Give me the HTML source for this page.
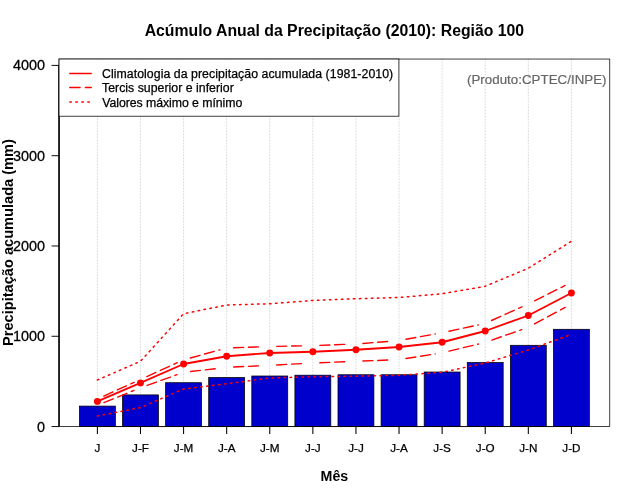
<!DOCTYPE html>
<html><head><meta charset="utf-8"><title>Acúmulo Anual da Precipitação</title>
<style>html,body{margin:0;padding:0;background:#fff;}body{width:640px;height:500px;overflow:hidden;}svg{display:block;will-change:transform;}text{font-family:"Liberation Sans",sans-serif;}</style>
</head><body>
<svg width="640" height="500" viewBox="0 0 640 500">
<rect x="0" y="0" width="640" height="500" fill="#ffffff"/>
<g stroke="#d0d0d0" stroke-width="0.85" stroke-dasharray="0.85 2.15" stroke-linecap="round" fill="none">
<line x1="97.39" y1="59.04" x2="97.39" y2="426.56"/>
<line x1="140.48" y1="59.04" x2="140.48" y2="426.56"/>
<line x1="183.58" y1="59.04" x2="183.58" y2="426.56"/>
<line x1="226.67" y1="59.04" x2="226.67" y2="426.56"/>
<line x1="269.76" y1="59.04" x2="269.76" y2="426.56"/>
<line x1="312.85" y1="59.04" x2="312.85" y2="426.56"/>
<line x1="355.95" y1="59.04" x2="355.95" y2="426.56"/>
<line x1="399.04" y1="59.04" x2="399.04" y2="426.56"/>
<line x1="442.13" y1="59.04" x2="442.13" y2="426.56"/>
<line x1="485.22" y1="59.04" x2="485.22" y2="426.56"/>
<line x1="528.32" y1="59.04" x2="528.32" y2="426.56"/>
<line x1="571.41" y1="59.04" x2="571.41" y2="426.56"/>
</g>
<g fill="#0000CD" stroke="#000000" stroke-width="0.75">
<rect x="79.44" y="406.10" width="35.91" height="20.46"/>
<rect x="122.53" y="394.90" width="35.91" height="31.66"/>
<rect x="165.62" y="382.70" width="35.91" height="43.86"/>
<rect x="208.71" y="377.50" width="35.91" height="49.06"/>
<rect x="251.81" y="376.00" width="35.91" height="50.56"/>
<rect x="294.90" y="375.20" width="35.91" height="51.36"/>
<rect x="337.99" y="374.75" width="35.91" height="51.81"/>
<rect x="381.08" y="374.75" width="35.91" height="51.81"/>
<rect x="424.18" y="372.00" width="35.91" height="54.56"/>
<rect x="467.27" y="362.50" width="35.91" height="64.06"/>
<rect x="510.36" y="345.30" width="35.91" height="81.26"/>
<rect x="553.45" y="329.30" width="35.91" height="97.26"/>
</g>
<g stroke="#000000" stroke-width="0.75" fill="none" stroke-linecap="round">
<line x1="97.39" y1="426.56" x2="571.41" y2="426.56"/>
<line x1="97.39" y1="426.56" x2="97.39" y2="433.96" stroke-width="1.05" stroke-linecap="butt"/>
<line x1="140.48" y1="426.56" x2="140.48" y2="433.96" stroke-width="1.05" stroke-linecap="butt"/>
<line x1="183.58" y1="426.56" x2="183.58" y2="433.96" stroke-width="1.05" stroke-linecap="butt"/>
<line x1="226.67" y1="426.56" x2="226.67" y2="433.96" stroke-width="1.05" stroke-linecap="butt"/>
<line x1="269.76" y1="426.56" x2="269.76" y2="433.96" stroke-width="1.05" stroke-linecap="butt"/>
<line x1="312.85" y1="426.56" x2="312.85" y2="433.96" stroke-width="1.05" stroke-linecap="butt"/>
<line x1="355.95" y1="426.56" x2="355.95" y2="433.96" stroke-width="1.05" stroke-linecap="butt"/>
<line x1="399.04" y1="426.56" x2="399.04" y2="433.96" stroke-width="1.05" stroke-linecap="butt"/>
<line x1="442.13" y1="426.56" x2="442.13" y2="433.96" stroke-width="1.05" stroke-linecap="butt"/>
<line x1="485.22" y1="426.56" x2="485.22" y2="433.96" stroke-width="1.05" stroke-linecap="butt"/>
<line x1="528.32" y1="426.56" x2="528.32" y2="433.96" stroke-width="1.05" stroke-linecap="butt"/>
<line x1="571.41" y1="426.56" x2="571.41" y2="433.96" stroke-width="1.05" stroke-linecap="butt"/>
<line x1="59.04" y1="426.56" x2="59.04" y2="65.40" stroke-width="1.5" stroke-linecap="butt"/>
<line x1="59.04" y1="426.56" x2="51.54" y2="426.56" stroke-width="0.95" stroke-linecap="butt"/>
<line x1="59.04" y1="336.27" x2="51.54" y2="336.27" stroke-width="0.95" stroke-linecap="butt"/>
<line x1="59.04" y1="245.98" x2="51.54" y2="245.98" stroke-width="0.95" stroke-linecap="butt"/>
<line x1="59.04" y1="155.69" x2="51.54" y2="155.69" stroke-width="0.95" stroke-linecap="butt"/>
<line x1="59.04" y1="65.40" x2="51.54" y2="65.40" stroke-width="0.95" stroke-linecap="butt"/>
<rect x="59.04" y="59.04" width="550.72" height="367.52"/>
</g>
<g font-size="11.7" fill="#000000" text-anchor="middle" stroke="#000000" stroke-width="0.25">
<text x="97.39" y="451.6">J</text>
<text x="140.48" y="451.6">J-F</text>
<text x="183.58" y="451.6">J-M</text>
<text x="226.67" y="451.6">J-A</text>
<text x="269.76" y="451.6">J-M</text>
<text x="312.85" y="451.6">J-J</text>
<text x="355.95" y="451.6">J-J</text>
<text x="399.04" y="451.6">J-A</text>
<text x="442.13" y="451.6">J-S</text>
<text x="485.22" y="451.6">J-O</text>
<text x="528.32" y="451.6">J-N</text>
<text x="571.41" y="451.6">J-D</text>
</g>
<g font-size="14.4" fill="#000000" text-anchor="end" stroke="#000000" stroke-width="0.3">
<text x="45.0" y="431.51">0</text>
<text x="45.0" y="341.22">1000</text>
<text x="45.0" y="250.93">2000</text>
<text x="45.0" y="160.64">3000</text>
<text x="45.0" y="70.35">4000</text>
</g>
<text x="334.4" y="35.6" font-size="15.8" font-weight="bold" text-anchor="middle">Acúmulo Anual da Precipitação (2010): Região 100</text>
<text x="334.4" y="480.8" font-size="14.2" font-weight="bold" text-anchor="middle">Mês</text>
<text transform="translate(13.2,242.5) rotate(-90)" font-size="14.6" font-weight="bold" text-anchor="middle">Precipitação acumulada (mm)</text>
<g stroke="#FF0000" fill="none" stroke-linecap="round" stroke-linejoin="round">
<polyline points="97.39,401.40 140.48,382.90 183.58,364.00 226.67,356.25 269.76,353.00 312.85,351.75 355.95,349.75 399.04,347.00 442.13,342.25 485.22,331.00 528.32,315.50 571.41,293.00" stroke-width="1.85"/>
<line x1="103.78" y1="396.03" x2="134.10" y2="382.37" stroke-width="1.4" stroke-dasharray="10 4.8"/>
<line x1="146.85" y1="376.59" x2="177.21" y2="362.71" stroke-width="1.4" stroke-dasharray="10 4.8"/>
<line x1="190.33" y1="357.95" x2="219.92" y2="349.85" stroke-width="1.4" stroke-dasharray="10 4.8"/>
<line x1="233.66" y1="347.76" x2="262.77" y2="346.74" stroke-width="1.4" stroke-dasharray="10 4.8"/>
<line x1="276.76" y1="346.35" x2="305.86" y2="345.75" stroke-width="1.4" stroke-dasharray="10 4.8"/>
<line x1="319.85" y1="345.34" x2="348.95" y2="344.26" stroke-width="1.4" stroke-dasharray="10 4.8"/>
<line x1="362.92" y1="343.43" x2="392.06" y2="341.07" stroke-width="1.4" stroke-dasharray="10 4.8"/>
<line x1="405.93" y1="339.25" x2="435.24" y2="333.95" stroke-width="1.4" stroke-dasharray="10 4.8"/>
<line x1="448.97" y1="331.22" x2="478.38" y2="324.88" stroke-width="1.4" stroke-dasharray="10 4.8"/>
<line x1="491.60" y1="320.51" x2="521.94" y2="306.79" stroke-width="1.4" stroke-dasharray="10 4.8"/>
<line x1="534.57" y1="300.76" x2="565.15" y2="285.44" stroke-width="1.4" stroke-dasharray="10 4.8"/>
<line x1="103.88" y1="402.58" x2="133.99" y2="390.42" stroke-width="1.4" stroke-dasharray="10 4.8"/>
<line x1="147.07" y1="385.43" x2="176.99" y2="374.67" stroke-width="1.4" stroke-dasharray="10 4.8"/>
<line x1="190.53" y1="371.51" x2="219.71" y2="368.19" stroke-width="1.4" stroke-dasharray="10 4.8"/>
<line x1="233.66" y1="367.06" x2="262.77" y2="365.64" stroke-width="1.4" stroke-dasharray="10 4.8"/>
<line x1="276.75" y1="364.93" x2="305.86" y2="363.37" stroke-width="1.4" stroke-dasharray="10 4.8"/>
<line x1="319.85" y1="362.72" x2="348.95" y2="361.58" stroke-width="1.4" stroke-dasharray="10 4.8"/>
<line x1="362.94" y1="361.02" x2="392.04" y2="359.88" stroke-width="1.4" stroke-dasharray="10 4.8"/>
<line x1="405.95" y1="358.51" x2="435.22" y2="353.89" stroke-width="1.4" stroke-dasharray="10 4.8"/>
<line x1="448.94" y1="351.16" x2="478.42" y2="344.04" stroke-width="1.4" stroke-dasharray="10 4.8"/>
<line x1="491.83" y1="340.09" x2="521.71" y2="329.61" stroke-width="1.4" stroke-dasharray="10 4.8"/>
<line x1="534.48" y1="323.98" x2="565.24" y2="307.42" stroke-width="1.4" stroke-dasharray="10 4.8"/>
<polyline points="97.39,380.00 140.48,361.30 183.58,313.75 226.67,305.00 269.76,303.75 312.85,300.50 355.95,298.75 399.04,297.50 442.13,293.75 485.22,286.25 528.32,268.25 571.41,241.25" stroke-width="1.5" stroke-dasharray="1.5 4.5"/>
<polyline points="97.39,416.00 140.48,407.60 183.58,389.00 226.67,383.75 269.76,378.00 312.85,376.75 355.95,376.25 399.04,375.25 442.13,372.30 485.22,363.00 528.32,350.00 571.41,334.40" stroke-width="1.5" stroke-dasharray="1.5 4.5"/>
</g>
<g fill="#FF0000" stroke="none">
<circle cx="97.39" cy="401.40" r="3.45"/>
<circle cx="140.48" cy="382.90" r="3.45"/>
<circle cx="183.58" cy="364.00" r="3.45"/>
<circle cx="226.67" cy="356.25" r="3.45"/>
<circle cx="269.76" cy="353.00" r="3.45"/>
<circle cx="312.85" cy="351.75" r="3.45"/>
<circle cx="355.95" cy="349.75" r="3.45"/>
<circle cx="399.04" cy="347.00" r="3.45"/>
<circle cx="442.13" cy="342.25" r="3.45"/>
<circle cx="485.22" cy="331.00" r="3.45"/>
<circle cx="528.32" cy="315.50" r="3.45"/>
<circle cx="571.41" cy="293.00" r="3.45"/>
</g>
<rect x="59.04" y="59.04" width="339.86" height="57.16" fill="#ffffff" stroke="#000000" stroke-width="0.75"/>
<g stroke="#FF0000" fill="none" stroke-linecap="round" stroke-width="1.5">
<line x1="69.8" y1="73.5" x2="91.2" y2="73.5"/>
<line x1="69.8" y1="87.6" x2="91.2" y2="87.6" stroke-dasharray="10.2 5.4"/>
<line x1="69.8" y1="102" x2="91.2" y2="102" stroke-dasharray="1.5 4.5"/>
</g>
<g font-size="12.3" fill="#000000" lengthAdjust="spacing" stroke="#000000" stroke-width="0.25">
<text x="102" y="77.8" textLength="291.2">Climatologia da precipitação acumulada (1981-2010)</text>
<text x="102" y="92.2" textLength="131.8">Tercis superior e inferior</text>
<text x="102.3" y="106.6" textLength="140">Valores máximo e mínimo</text>
</g>
<text x="467.0" y="83.7" font-size="13.3" fill="#666666" textLength="139.5" stroke="#666666" stroke-width="0.2" lengthAdjust="spacing">(Produto:CPTEC/INPE)</text>
</svg>
</body></html>
